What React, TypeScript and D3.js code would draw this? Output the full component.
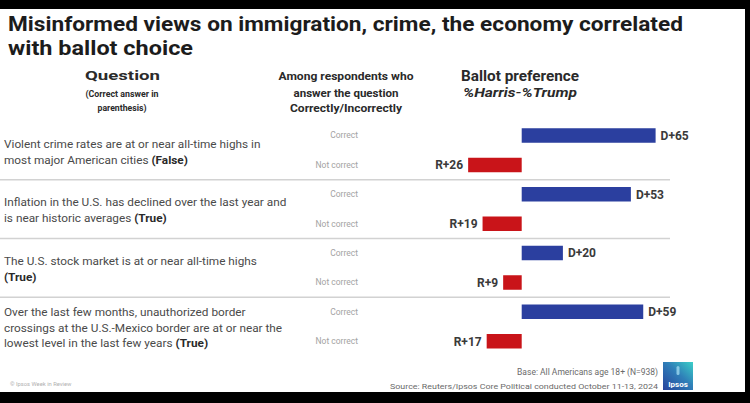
import React from "react";
import * as d3 from "d3";

const W = 750;
const H = 403;

const questionIds = ["crime", "inflation", "stocks", "border"];
const questionLines: string[][] = [
  ["Violent crime rates are at or near all-time highs in", "most major American cities "],
  ["Inflation in the U.S. has declined over the last year and", "is near historic averages "],
  ["The U.S. stock market is at or near all-time highs", ""],
  ["Over the last few months, unauthorized border", "crossings at the U.S.-Mexico border are at or near the", "lowest level in the last few years "],
];
const correctAnswers = ["(False)", "(True)", "(True)", "(True)"];
const correctMargin = [65, 53, 20, 59];
const incorrectMargin = [-26, -19, -9, -17];
const answerLabels = ["Correct", "Not correct"];

const BLUE = "#2b3f9f";
const RED = "#c91419";

function marginLabel(v: number) {
  return v >= 0 ? `D+${v}` : `R+${Math.abs(v)}`;
}

export default function App() {
  const x = d3.scaleLinear().domain([-30, 70]).range([459.9, 665.9]);
  const y = d3.scaleBand<string>().domain(questionIds).range([121, 356]).paddingInner(0).paddingOuter(0);
  const step = y.step();
  const barH = 14.5;

  const subCenter = (lab: string) => (lab === "Correct" ? 14.5 : 44);

  return (
    <svg
      width={W}
      height={H}
      style={{ position: "absolute", left: 0, top: 0, display: "block" }}
      fontFamily="Roboto, 'Open Sans', sans-serif"
    >
      <rect x={0} y={0} width={W} height={H} fill="#000" />
      <rect x={0} y={9} width={745} height={383} fill="#fff" />

      {/* Title */}
      <text x={8} y={31} fontSize={20} fontWeight={700} fill="#1c1c1c" textLength={675} lengthAdjust="spacingAndGlyphs">
        Misinformed views on immigration, crime, the economy correlated
      </text>
      <text x={8} y={54.5} fontSize={20} fontWeight={700} fill="#1c1c1c" textLength={185} lengthAdjust="spacingAndGlyphs">
        with ballot choice
      </text>

      {/* Column headers */}
      <text x={122.5} y={80} fontSize={13} fontWeight={700} fill="#2a2a2a" textAnchor="middle" textLength={75} lengthAdjust="spacingAndGlyphs">
        Question
      </text>
      <text x={122} y={97} fontSize={8.5} fontWeight={700} fill="#2a2a2a" textAnchor="middle" textLength={73} lengthAdjust="spacingAndGlyphs">
        (Correct answer in
      </text>
      <text x={122} y={111} fontSize={8.5} fontWeight={700} fill="#2a2a2a" textAnchor="middle" textLength={49} lengthAdjust="spacingAndGlyphs">
        parenthesis)
      </text>

      <text x={346} y={79.5} fontSize={10} fontWeight={700} fill="#2a2a2a" textAnchor="middle" textLength={135} lengthAdjust="spacingAndGlyphs">
        Among respondents who
      </text>
      <text x={346} y={96.5} fontSize={10} fontWeight={700} fill="#2a2a2a" textAnchor="middle" textLength={105} lengthAdjust="spacingAndGlyphs">
        answer the question
      </text>
      <text x={346} y={111.5} fontSize={10} fontWeight={700} fill="#2a2a2a" textAnchor="middle" textLength={112} lengthAdjust="spacingAndGlyphs">
        Correctly/Incorrectly
      </text>

      <text x={461} y={81} fontSize={14.5} fontWeight={700} fill="#2a2a2a" textLength={118} lengthAdjust="spacingAndGlyphs">
        Ballot preference
      </text>
      <text x={463} y={96.5} fontSize={13} fontWeight={700} fontStyle="italic" fill="#2a2a2a" textLength={114} lengthAdjust="spacingAndGlyphs">
        %Harris-%Trump
      </text>

      {/* Rows */}
      {questionIds.map((id, i) => {
        const top = y(id)!;
        const lines = questionLines[i].slice();
        const nLines = lines.length;
        const lh = nLines === 3 ? 15.5 : 16;
        const mid = top + 30.5;
        const startY = mid - ((nLines - 1) * lh) / 2;
        const values = [correctMargin[i], incorrectMargin[i]];
        return (
          <g key={id}>
            {lines.map((ln, j) => (
              <text key={j} x={4} y={startY + j * lh} dy="0.35em" fontSize={11.8} fill="#4a4a4a">
                {ln}
                {j === nLines - 1 && (
                  <tspan fontWeight={700} fill="#2a2a2a">
                    {correctAnswers[i]}
                  </tspan>
                )}
              </text>
            ))}
            {answerLabels.map((lab, k) => {
              const cy = top + subCenter(lab);
              const v = values[k];
              const x0 = x(Math.min(0, v));
              const x1 = x(Math.max(0, v));
              return (
                <g key={lab}>
                  <text x={358} y={cy} dy="0.35em" fontSize={8.5} fill="#a3a3a3" textAnchor="end">
                    {lab}
                  </text>
                  <rect x={x0} y={cy - barH / 2} width={x1 - x0} height={barH} fill={v >= 0 ? BLUE : RED} />
                  <text
                    x={v >= 0 ? x1 + 5 : x0 - 5}
                    y={cy}
                    dy="0.36em"
                    fontSize={12}
                    fontWeight={700}
                    fill="#3a3a3a"
                    textAnchor={v >= 0 ? "start" : "end"}
                  >
                    {marginLabel(v)}
                  </text>
                </g>
              );
            })}
            {i < questionIds.length - 1 && (
              <line x1={0} x2={670} y1={top + step} y2={top + step} stroke="#d2d2d2" strokeWidth={1.5} />
            )}
          </g>
        );
      })}

      {/* Footer */}
      <text x={10} y={386} fontSize={5.8} fill="#b0b0b0">© Ipsos Week in Review</text>
      <text x={658} y={374.5} fontSize={8.5} fill="#6a6a6a" textAnchor="end">
        Base: All Americans age 18+ (N=938)
      </text>
      <text x={658} y={388.5} fontSize={7.8} fill="#6a6a6a" textAnchor="end" textLength={268} lengthAdjust="spacingAndGlyphs">
        Source: Reuters/Ipsos Core Political conducted October 11-13, 2024
      </text>

      <defs>
        <linearGradient id="ipsosGrad" x1="0" y1="1" x2="1" y2="0">
          <stop offset="0%" stopColor="#27439c" />
          <stop offset="55%" stopColor="#2f7fb8" />
          <stop offset="100%" stopColor="#3ccfc8" />
        </linearGradient>
      </defs>
      <rect x={663} y={362} width={30} height={28} fill="url(#ipsosGrad)" />
      <rect x={676.5} y={366} width={3} height={9} rx={1.5} fill="#9fd8f0" opacity={0.8} />
      <text x={678} y={386.5} fontSize={8} fontWeight={700} fill="#fff" textAnchor="middle">
        Ipsos
      </text>
    </svg>
  );
}
